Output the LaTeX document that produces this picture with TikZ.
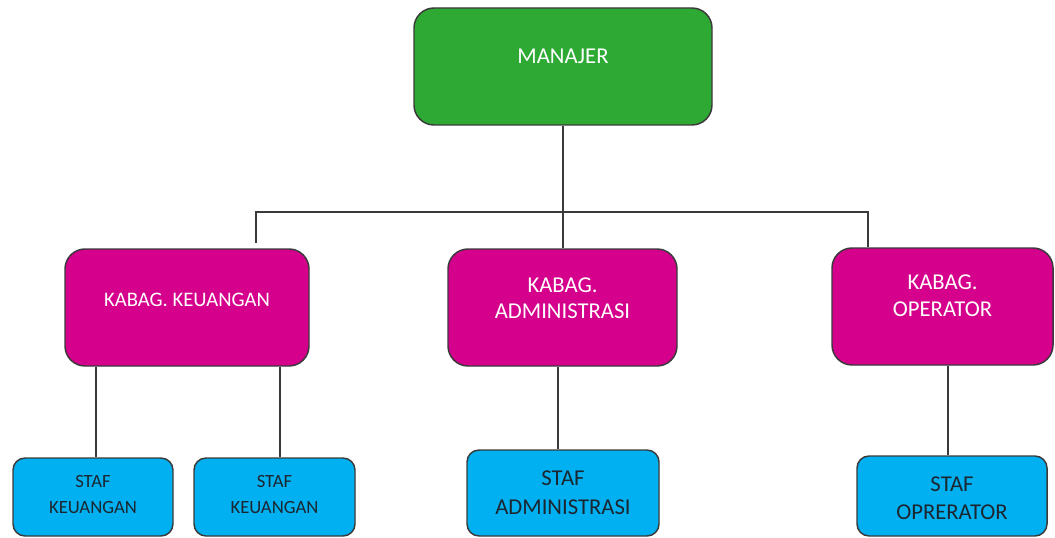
\documentclass[tikz,border=0pt]{standalone}
\usepackage{fontspec}
\setmainfont{Carlito}
\definecolor{mgreen}{HTML}{2EAA34}
\definecolor{mmag}{HTML}{D5008C}
\definecolor{mblue}{HTML}{00B0F0}
\definecolor{mline}{HTML}{3A3A3A}
\definecolor{mdark}{HTML}{1C2630}
\begin{document}
\begin{tikzpicture}[x=0.75pt,y=-0.75pt,
  bx/.style={draw=mline, line width=1.1pt, inner sep=0pt, rectangle},
  big/.style={bx, rounded corners=15pt, minimum height=87.75pt},
  small/.style={bx, rounded corners=9pt},
  wtxt/.style={text=white, align=center, inner sep=0pt},
  dtxt/.style={text=mdark, align=center, inner sep=0pt},
  conn/.style={draw=mline, line width=1.1pt}]
\useasboundingbox (0,0) rectangle (1055,538);
% boxes
\node[big, fill=mgreen, minimum width=223.5pt] (m) at (563,66.5) {};
\node[big, fill=mmag, minimum width=183pt] (k1) at (187,307.5) {};
\node[big, fill=mmag, minimum width=171.75pt] (k2) at (562.5,307.5) {};
\node[big, fill=mmag, minimum width=165.75pt] (k3) at (942.5,306.5) {};
\node[small, fill=mblue, minimum width=120pt, minimum height=58.5pt] (s1) at (93,497) {};
\node[small, fill=mblue, minimum width=120.75pt, minimum height=58.5pt] (s2) at (274.5,497) {};
\node[small, fill=mblue, minimum width=144pt, minimum height=64.5pt] (s3) at (563,493) {};
\node[small, fill=mblue, minimum width=142.5pt, minimum height=60pt] (s4) at (952,496) {};
% texts
\node[wtxt, font=\fontsize{17}{19.5}\selectfont] (mt) at (563,56) {MANAJER};
\node[wtxt, font=\fontsize{15.5}{19.5}\selectfont] (k1t) at (187,300) {KABAG. KEUANGAN};
\node[wtxt, font=\fontsize{17}{19.5}\selectfont] (k2t) at (562.5,298) {KABAG.\\ADMINISTRASI};
\node[wtxt, font=\fontsize{17}{20.25}\selectfont] (k3t) at (942.5,295.5) {KABAG.\\OPERATOR};
\node[dtxt, font=\fontsize{14}{19.5}\selectfont] (s1t) at (93,494.5) {STAF\\KEUANGAN};
\node[dtxt, font=\fontsize{14}{19.5}\selectfont] (s2t) at (274.5,494.5) {STAF\\KEUANGAN};
\node[dtxt, font=\fontsize{17}{22}\selectfont] (s3t) at (563,492.5) {STAF\\ADMINISTRASI};
\node[dtxt, font=\fontsize{17}{21}\selectfont] (s4t) at (952,498.5) {STAF\\OPRERATOR};
% connectors
\coordinate (hl) at (256,212);
\coordinate (hr) at (868,212);
\coordinate (kl) at (256,243);
\coordinate (jm) at (563,212);
\draw[conn] (m.south) -- (jm) -- (k2.north -| jm);
\draw[conn] (kl) -- (hl) -- (hr) -- (hr |- k3.north);
\coordinate (c1) at (96,0);
\coordinate (c2) at (280,0);
\coordinate (c3) at (558,0);
\coordinate (c4) at (948,0);
\draw[conn] (c1 |- k1.south) -- (c1 |- s1.north);
\draw[conn] (c2 |- k1.south) -- (c2 |- s2.north);
\draw[conn] (c3 |- k2.south) -- (c3 |- s3.north);
\draw[conn] (c4 |- k3.south) -- (c4 |- s4.north);
\end{tikzpicture}
\end{document}
